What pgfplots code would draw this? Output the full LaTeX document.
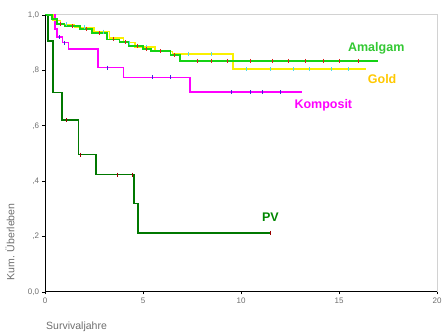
\documentclass[border=0pt]{standalone}
\usepackage{fontspec}
\setmainfont{Liberation Sans}
\usepackage{pgfplots}
\pgfplotsset{compat=1.18}
\definecolor{amal}{RGB}{20,210,20}
\definecolor{amallab}{RGB}{50,200,50}
\definecolor{goldline}{RGB}{250,240,0}
\definecolor{goldlab}{RGB}{255,200,0}
\definecolor{komp}{RGB}{255,0,255}
\definecolor{pv}{RGB}{0,120,0}
\definecolor{pvlab}{RGB}{0,135,0}
\definecolor{tickgray}{RGB}{110,110,110}
\definecolor{cens}{RGB}{220,30,30}
\definecolor{censg}{RGB}{80,220,230}
\definecolor{censk}{RGB}{60,40,220}
\begin{document}
\begin{tikzpicture}[x=1pt,y=1pt]
\path[use as bounding box] (0,0) rectangle (444,334);
\begin{axis}[
  at={(45pt,42pt)}, anchor=south west,
  scale only axis, width=392pt, height=277pt,
  xmin=0, xmax=20, ymin=0, ymax=1,
  axis line style={draw=gray!35, line width=1pt},
  xtick={0,5,10,15,20}, xticklabels={0,5,10,15,20},
  ytick={0,0.2,0.4,0.6,0.8,1},
  yticklabels={{0,0},{,2},{,4},{,6},{,8},{1,0}},
  tick pos=left, tick align=outside,
  major tick length=2.5pt,
  tick style={black, line width=0.8pt},
  ticklabel style={font=\fontsize{8}{9}\selectfont, text=tickgray},
  /pgf/number format/assume math mode=true,
  clip=false,
]
% PV
\addplot[const plot, pv, line width=1.6pt] coordinates {
(0,1.0) (0.15,0.906) (0.4,0.72) (0.87,0.62) (1.7,0.496) (2.6,0.424) (4.55,0.319) (4.75,0.213) (11.55,0.213)};
% Komposit
\addplot[const plot, komp, line width=1.6pt] coordinates {
(0,1.0) (0.5,0.95) (0.6,0.92) (0.9,0.9) (1.2,0.877) (2.7,0.81) (4.0,0.775) (7.4,0.722) (13.1,0.722)};
% Gold
\addplot[const plot, goldline, line width=1.6pt] coordinates {
(0,1.0) (0.4,0.98) (0.8,0.966) (1.5,0.955) (2.5,0.94) (3.3,0.916) (4.0,0.9) (4.6,0.885) (5.6,0.868) (6.5,0.86) (9.6,0.805) (16.4,0.805)};
% Amalgam
\addplot[const plot, amal, line width=1.6pt] coordinates {
(0,1.0) (0.35,0.985) (0.6,0.968) (1.0,0.96) (1.8,0.95) (2.4,0.935) (3.15,0.912) (3.8,0.902) (4.3,0.889) (5.0,0.878) (5.4,0.87) (6.4,0.856) (6.9,0.834) (17.0,0.834)};
% censor marks
\addplot[only marks, mark=|, mark size=2pt, censk, mark options={line width=1pt}] coordinates {
(0.75,0.92) (1.0,0.9) (3.2,0.81) (5.5,0.775) (6.4,0.775) (9.5,0.722) (10.5,0.722) (11.1,0.722) (12.0,0.722)};
\addplot[only marks, mark=|, mark size=2pt, censg, mark options={line width=1pt}] coordinates {
(1.1,0.966) (2.0,0.955) (3.0,0.94) (4.3,0.9) (5.2,0.885) (7.3,0.86) (8.5,0.86) (10.3,0.805) (11.5,0.805) (12.7,0.805) (13.5,0.805) (14.6,0.805) (15.5,0.805)};
\addplot[only marks, mark=|, mark size=2pt, cens, mark options={line width=1pt}] coordinates {
(0.8,0.968) (1.4,0.96) (2.1,0.95) (2.8,0.935) (3.5,0.912) (4.1,0.902) (4.7,0.889) (5.2,0.878) (5.9,0.87) (6.6,0.856) (7.8,0.834) (8.5,0.834) (9.3,0.834) (10.5,0.834) (11.6,0.834) (12.4,0.834) (13.3,0.834) (14.2,0.834) (15.0,0.834) (16.0,0.834)};
\addplot[only marks, mark=|, mark size=2pt, red!60!black, mark options={line width=1pt}] coordinates {
(1.1,0.62) (1.8,0.496) (3.7,0.424) (4.45,0.424) (11.5,0.213)};
% black left and bottom axis lines
\draw[black, line width=1pt] (axis cs:0,1) -- (axis cs:0,0) -- (axis cs:20,0);
% series labels
\node[font=\fontsize{12.5}{14}\selectfont\bfseries, text=amallab] at (axis cs:16.9,0.881) {Amalgam};
\node[font=\fontsize{12.5}{14}\selectfont\bfseries, text=goldlab] at (axis cs:17.2,0.77) {Gold};
\node[font=\fontsize{12.5}{14}\selectfont\bfseries, text=komp] at (axis cs:14.2,0.675) {Komposit};
\node[font=\fontsize{12.5}{14}\selectfont\bfseries, text=pvlab] at (axis cs:11.5,0.271) {PV};
\end{axis}
\node[rotate=90, font=\fontsize{10.5}{12}\selectfont, text=tickgray] at (10,92) {Kum. Überleben};
\node[anchor=west, font=\fontsize{10.5}{12}\selectfont, text=tickgray, inner sep=0pt] at (46,7) {Survivaljahre};
\end{tikzpicture}
\end{document}
